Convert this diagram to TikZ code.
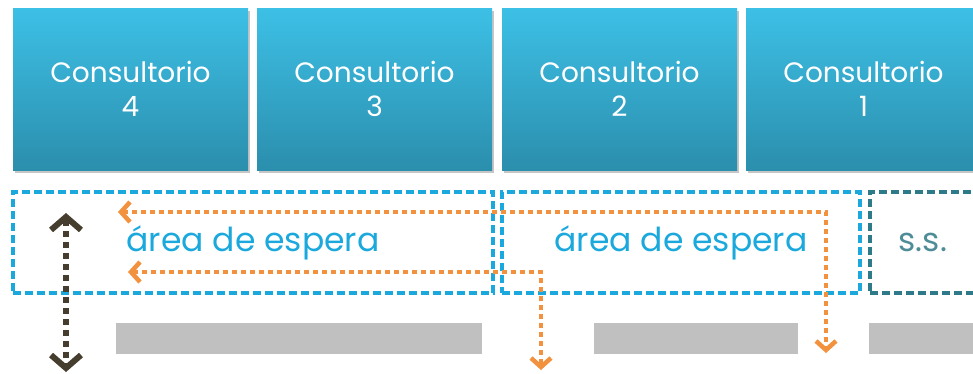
\documentclass[tikz,border=0pt]{standalone}
\usepackage{fontspec}
\setmainfont{Poppins}
\usetikzlibrary{arrows.meta,shadows,positioning}

\definecolor{roomtop}{HTML}{3DC0E6}
\definecolor{roombot}{HTML}{2B8EAD}
\definecolor{waitblue}{HTML}{1BA8DC}
\definecolor{ssteal}{HTML}{2F7A88}
\definecolor{sstext}{HTML}{4E8C98}
\definecolor{flow}{HTML}{F2923F}
\definecolor{corridor}{HTML}{C0C0C0}
\definecolor{exitdark}{HTML}{453E2E}

\tikzset{
  room/.style={rectangle,minimum width=235pt,minimum height=162pt,
    top color=roomtop,bottom color=roombot,text=white,align=center,
    font=\fontsize{28}{34}\selectfont,
    drop shadow={shadow xshift=2pt,shadow yshift=-3pt,opacity=0.45}},
  wait/.style={rectangle,draw=waitblue,line width=3.5pt,dash pattern=on 8pt off 4pt,
    minimum height=101pt,text=waitblue,font=\fontsize{33}{34}\selectfont},
  bar/.style={rectangle,fill=corridor,minimum height=31pt,inner sep=0pt},
  flowline/.style={flow,line width=4.5pt,dash pattern=on 4.5pt off 4.5pt,
    {Straight Barb[length=9pt,width=20pt,line width=4.5pt]}-{Straight Barb[length=9pt,width=20pt,line width=4.5pt]}},
  exitline/.style={exitdark,line width=6pt,dash pattern=on 6pt off 5pt,
    {Straight Barb[length=13pt,width=30pt,line width=6pt]}-{Straight Barb[length=13pt,width=30pt,line width=6pt]}}
}

\begin{document}
\begin{tikzpicture}[x=1pt,y=-1pt]
  \useasboundingbox (0,0) rectangle (973,373);
  \clip (0,0) rectangle (973,373);

  % Specification of rooms
  \node[room] (c4) at (130.5,89) {Consultorio\\4};
  \node[room] (c3) at (374.5,89) {Consultorio\\3};
  \node[room] (c2) at (619.5,89) {Consultorio\\2};
  \node[room] (c1) at (863.5,89) {Consultorio\\1};

  % Waiting areas
  \node[wait,minimum width=480pt] (espA) at (253,242.5) {área de espera};
  \node[wait,minimum width=358pt] (espB) at (681,242.5) {área de espera};
  \node[wait,draw=ssteal,text=sstext,anchor=west,align=left,text width=200pt,
    inner xsep=29pt] (ss) at (868,242.5) {s.s.};

  % Corridor bars
  \node[bar,minimum width=366pt] (barA) at (299,338.5) {};
  \node[bar,minimum width=204pt] (barB) at (696,338.5) {};
  \node[bar,minimum width=200pt,anchor=west] (barC) at (869,338.5) {};

  % Ends of the routes
  \coordinate (fa) at (118,212);
  \coordinate (fb) at (826,212);
  \coordinate (fc) at (826,353);
  \coordinate (ga) at (128,272);
  \coordinate (gb) at (541,272);
  \coordinate (gc) at (541,370);
  \coordinate (ea) at (66,213);
  \coordinate (eb) at (66,372);

  \begin{scope}
    \draw[flowline] (fa) -- (fb) -- (fc);
    \draw[flowline] (ga) -- (gb) -- (gc);
    \draw[exitline] (ea) -- (eb);
  \end{scope}

\end{tikzpicture}
\end{document}
